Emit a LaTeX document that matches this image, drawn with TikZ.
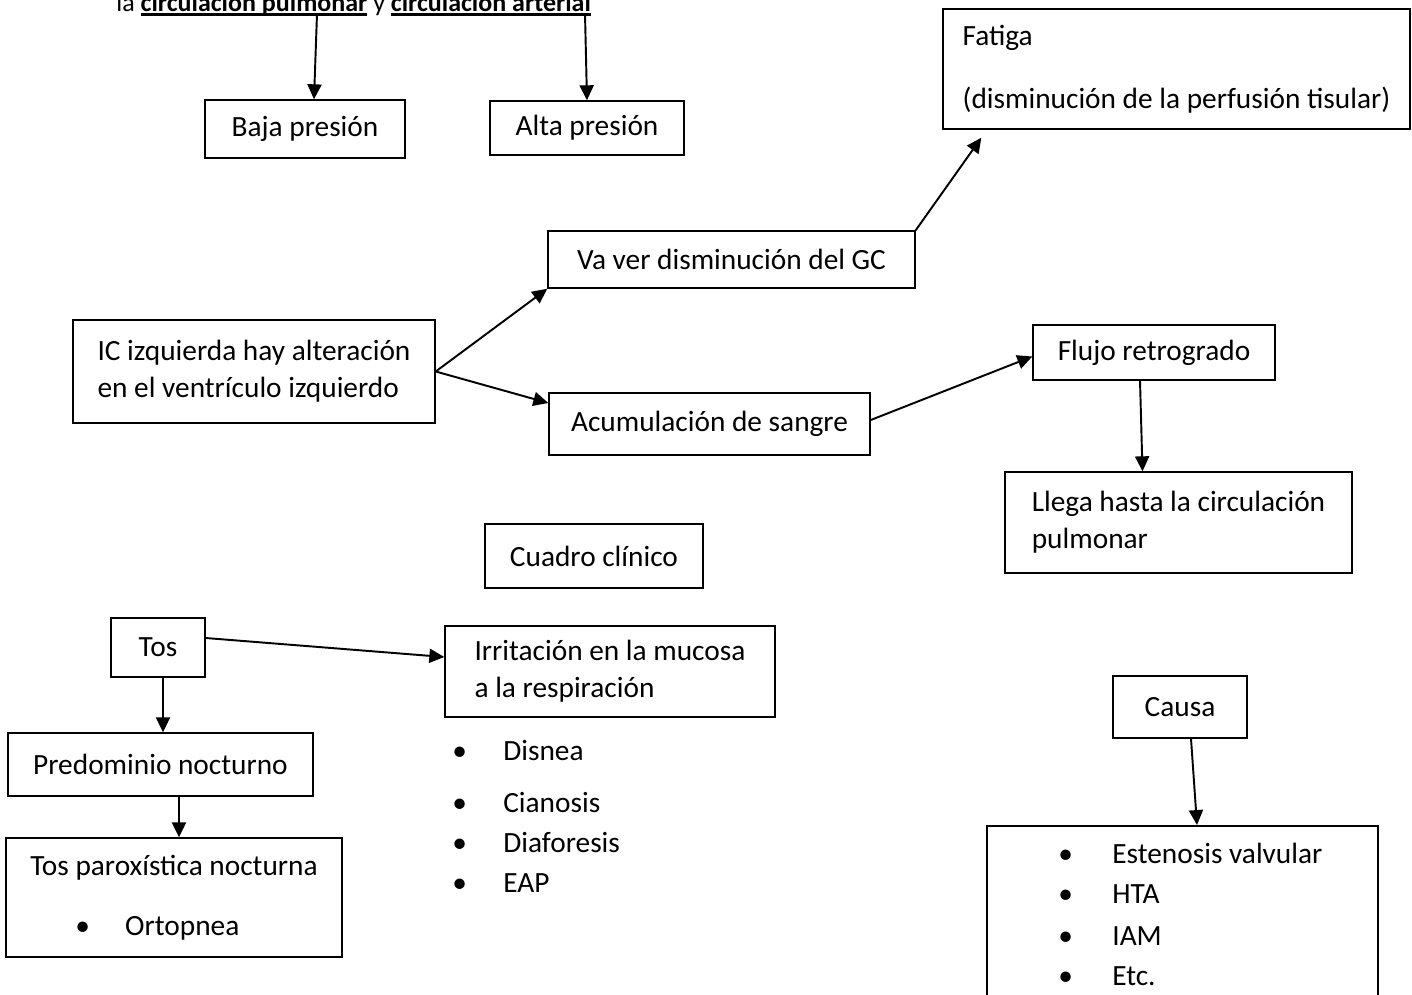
\documentclass[tikz,border=0pt]{standalone}
\usepackage{fontspec}
\setmainfont{Carlito}
\usepackage{tikz}
\usetikzlibrary{arrows.meta}
\tikzstyle{arrow} = [line width=1.1pt,->,>={Triangle[length=8.5pt,width=8pt]}]
\newcommand{\subr}[1]{{\setbox0\hbox{#1}\rlap{\rule[-2.8pt]{\wd0}{1.6pt}}\box0}}

\begin{document}
\begin{tikzpicture}[
        x=0.02cm, y=-0.02cm,
        every node/.style={font=\fontsize{16.7}{21}\selectfont},
        box/.style={rectangle, draw=black, line width=0.85pt, inner sep=0pt, align=left},
        item/.style={anchor=base west, inner sep=0pt},
        arrow/.style={line width=1.1pt,->,>={Triangle[length=8.5pt,width=8pt]}}
    ]
    \useasboundingbox (0,0) rectangle (1412,994);
    \clip (0,0) rectangle (1412,994);

    % Nodes
    \node (titulo) [item, font=\fontsize{14.8}{18}\selectfont] at (116,11) {la \subr{\textbf{circulación pulmonar}} y \subr{\textbf{circulación arterial}}};
    \coordinate (pulm) at (317,14);
    \coordinate (art) at (585,14);

    \node (baja) [box, minimum width=4cm, minimum height=1.16cm] at (305,129) {Baja presión};
    \node (alta) [box, minimum width=3.88cm, minimum height=1.08cm] at (587,128) {Alta presión};
    \node (fatiga) [box, minimum width=9.34cm, minimum height=2.4cm] at (1176.5,69) {Fatiga\\[14.7pt](disminución de la perfusión tisular)};

    \node (va) [box, minimum width=7.34cm, minimum height=1.14cm] at (731.5,259.5) {Va ver disminución del GC};
    \node (ic) [box, minimum width=7.24cm, minimum height=2.06cm] at (254,371.5) {IC izquierda hay alteración\\en el ventrículo izquierdo};
    \node (acum) [box, minimum width=6.42cm, minimum height=1.24cm] at (709.5,424) {Acumulación de sangre};
    \node (flujo) [box, minimum width=4.84cm, minimum height=1.1cm] at (1154,352.5) {Flujo retrogrado};
    \node (llega) [box, minimum width=6.94cm, minimum height=2.02cm] at (1178.5,522.5) {Llega hasta la circulación\\pulmonar};

    \node (cuadro) [box, minimum width=4.36cm, minimum height=1.28cm] at (594,556) {Cuadro clínico};

    \node (tos) [box, minimum width=1.88cm, minimum height=1.18cm] at (158,647.5) {Tos};
    \node (predom) [box, minimum width=6.1cm, minimum height=1.26cm] at (160.5,764.5) {Predominio nocturno};
    \node (parox) [box, minimum width=6.72cm, minimum height=2.38cm] at (174,897.5) {Tos paroxística nocturna\\[13pt]\hspace*{0.9cm}\makebox[1cm][l]{\textbullet}Ortopnea};
    \node (irrit) [box, minimum width=6.6cm, minimum height=1.82cm] at (610,671.5) {Irritación en la mucosa\\a la respiración};

    \node (disnea) [item] at (452,760) {\makebox[1.02cm][l]{\textbullet}Disnea};
    \node (cianosis) [item] at (452,812) {\makebox[1.02cm][l]{\textbullet}Cianosis};
    \node (diaforesis) [item] at (452,852) {\makebox[1.02cm][l]{\textbullet}Diaforesis};
    \node (eap) [item] at (452,892) {\makebox[1.02cm][l]{\textbullet}EAP};

    \node (causa) [box, minimum width=2.68cm, minimum height=1.24cm] at (1180,707) {Causa};
    \node (causas) [box, anchor=north, minimum width=7.82cm, minimum height=4cm] at (1182.5,825) {};
    \node (estenosis) [item] at (1058,863) {\makebox[1.08cm][l]{\textbullet}Estenosis valvular};
    \node (hta) [item] at (1058,903) {\makebox[1.08cm][l]{\textbullet}HTA};
    \node (iam) [item] at (1058,945) {\makebox[1.08cm][l]{\textbullet}IAM};
    \node (etc) [item] at (1058,985) {\makebox[1.08cm][l]{\textbullet}Etc.};

    % Arrows
    \draw [arrow] (pulm) -- ([shift={(9,0)}]baja.north);
    \draw [arrow] (art) -- (alta.north);
    \draw [arrow] (va.north east) -- ([shift={(39,8)}]fatiga.south west);
    \draw [arrow] (ic.east) -- (va.south west);
    \draw [arrow] (ic.east) -- ([shift={(0,-21)}]acum.west);
    \draw [arrow] ([shift={(0,-4)}]acum.east) -- ([shift={(0,4)}]flujo.west);
    \draw [arrow] ([shift={(-14,0)}]flujo.south) -- ([shift={(-36,0)}]llega.north);
    \draw [arrow] ([shift={(5,0)}]tos.south) -- ([shift={(2.5,0)}]predom.north);
    \draw [arrow] ([shift={(18.5,0)}]predom.south) -- ([shift={(5,0)}]parox.north);
    \draw [arrow] ([shift={(0,-9.5)}]tos.east) -- ([shift={(0,-14.5)}]irrit.west);
    \draw [arrow] ([shift={(11,0)}]causa.south) -- ([shift={(14.5,0)}]causas.north);

\end{tikzpicture}
\end{document}
